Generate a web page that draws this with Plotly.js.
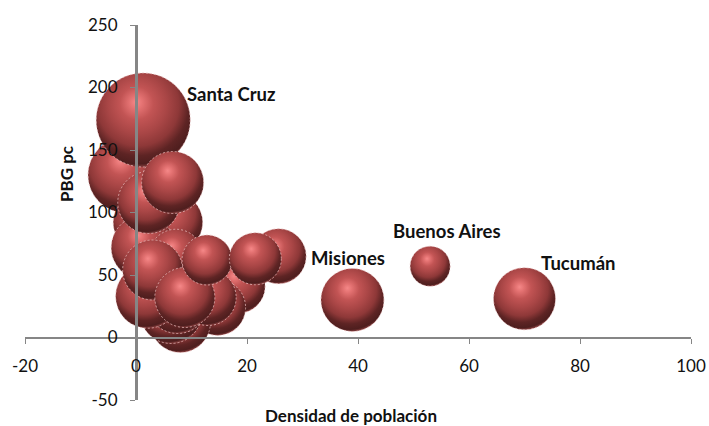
<!DOCTYPE html>
<html>
<head>
<meta charset="utf-8">
<script src="https://cdn.plot.ly/plotly-3.0.1.min.js"></script>
<style>html,body{margin:0;padding:0;background:#fff}#c{width:709px;height:426px;overflow:hidden}</style>
</head>
<body>
<div id="c"></div>
<script>
// Values in back-to-front drawing order
const density = [-1.8, 1.3, 6.6, 1.3, 7.2, 25.7, 18.4, 14.7, 8.0, 6.3, 7.5, 13.0, 2.1, 2.3, 1.3, 3.0, 8.8, 12.8, 21.5, 6.6, 39, 53, 70];
const pbgPc   = [130, 92, 92, 72, 65, 65, 41, 24, 12, 20, 28, 32, 33, 108, 174, 54, 32, 62, 63, 124, 30, 57, 31];
const bubbleDiameter = [76, 60, 60, 64, 54, 55, 54, 56, 60, 62, 62, 56, 64, 62, 94, 60, 60, 50, 52, 62, 63, 40, 62];
const labelNames = ["Santa Cruz", "Misiones", "Buenos Aires", "Tucumán"];
const labelX = [8.8, 31.2, 46.0, 72.6];
const labelY = [195, 63.5, 85, 59.5];
const xTicks = [-20, 0, 20, 40, 60, 80, 100];
const yTicks = [-50, 0, 50, 100, 150, 200, 250];
const xTickText = ["-20", "0", "20", "40", "60", "80", "100"];
const yTickText = ["-50", "0", "50", "100", "150", "200", "250"];
const xTitle = "Densidad de población";
const yTitle = "PBG pc";

const font = "Lato, 'Open Sans', sans-serif";
const axis = {
  showgrid: false, zeroline: false, showline: true, linecolor: "#868686", linewidth: 2.5,
  ticks: "outside", ticklen: 5, tickcolor: "#868686", tickwidth: 1,
  tickfont: {family: font, size: 17, color: "#111"},
  anchor: "free", tickmode: "array", automargin: false
};
const trace = {
  type: "scatter", mode: "markers", x: density, y: pbgPc, cliponaxis: false,
  hoverinfo: "skip",
  marker: {size: bubbleDiameter, sizemode: "diameter", color: "#b04a4a", opacity: 1,
           line: {color: "rgba(232,190,190,0.75)", width: 1}}
};
const titleFont = {family: font, size: 17, color: "#111"};
const pw = 666, ph = 375, ml = 25, mt = 25;
const layout = {
  width: 709, height: 426, showlegend: false,
  paper_bgcolor: "#fff", plot_bgcolor: "#fff",
  margin: {l: ml, r: 18, t: mt, b: 26},
  xaxis: Object.assign({}, axis, {
    range: [-20, 100], tickvals: xTicks, ticktext: xTickText, position: 50 / 300, ticklabelstandoff: 8
  }),
  yaxis: Object.assign({}, axis, {
    range: [-50, 250], tickvals: yTicks, ticktext: yTickText, position: 20 / 120, ticklabelstandoff: 9
  }),
  annotations: labelNames.map((t, i) => ({
    text: "<b>" + t + "</b>", x: labelX[i], y: labelY[i], xref: "x", yref: "y",
    xanchor: "left", yanchor: "middle", showarrow: false,
    font: {family: font, size: 18.5, color: "#111"}
  })).concat([
    {text: "<b>" + xTitle + "</b>", x: (351 - ml) / pw, y: (mt + ph - 415) / ph, xref: "paper", yref: "paper",
     xanchor: "center", yanchor: "middle", showarrow: false, font: titleFont},
    {text: "<b>" + yTitle + "</b>", x: (66 - ml) / pw, y: (mt + ph - 174) / ph, xref: "paper", yref: "paper",
     xanchor: "center", yanchor: "middle", showarrow: false, textangle: -90, font: titleFont}
  ])
};

Plotly.newPlot("c", [trace], layout, {displayModeBar: false, staticPlot: true}).then(gd => {
  const NS = "http://www.w3.org/2000/svg";
  const defs = gd.querySelector(".main-svg defs");
  const g = document.createElementNS(NS, "radialGradient");
  g.setAttribute("id", "sphereFill");
  [["cx", "0.46"], ["cy", "0.36"], ["r", "0.68"], ["fx", "0.42"], ["fy", "0.31"]]
    .forEach(a => g.setAttribute(a[0], a[1]));
  [[0, "#f58888"], [0.1, "#e47272"], [0.26, "#c25454"], [0.46, "#a94646"], [0.64, "#8e3838"],
   [0.78, "#5e2424"], [0.9, "#4e1e1e"], [0.96, "#964646"], [1, "#d88484"]].forEach(s => {
    const st = document.createElementNS(NS, "stop");
    st.setAttribute("offset", s[0]); st.setAttribute("stop-color", s[1]);
    g.appendChild(st);
  });
  defs.appendChild(g);
  gd.querySelectorAll(".scatterlayer .point").forEach(p => {
    p.style.fill = "url(#sphereFill)";
    p.style.strokeDasharray = "2,2";
  });
});
</script>
</body>
</html>
